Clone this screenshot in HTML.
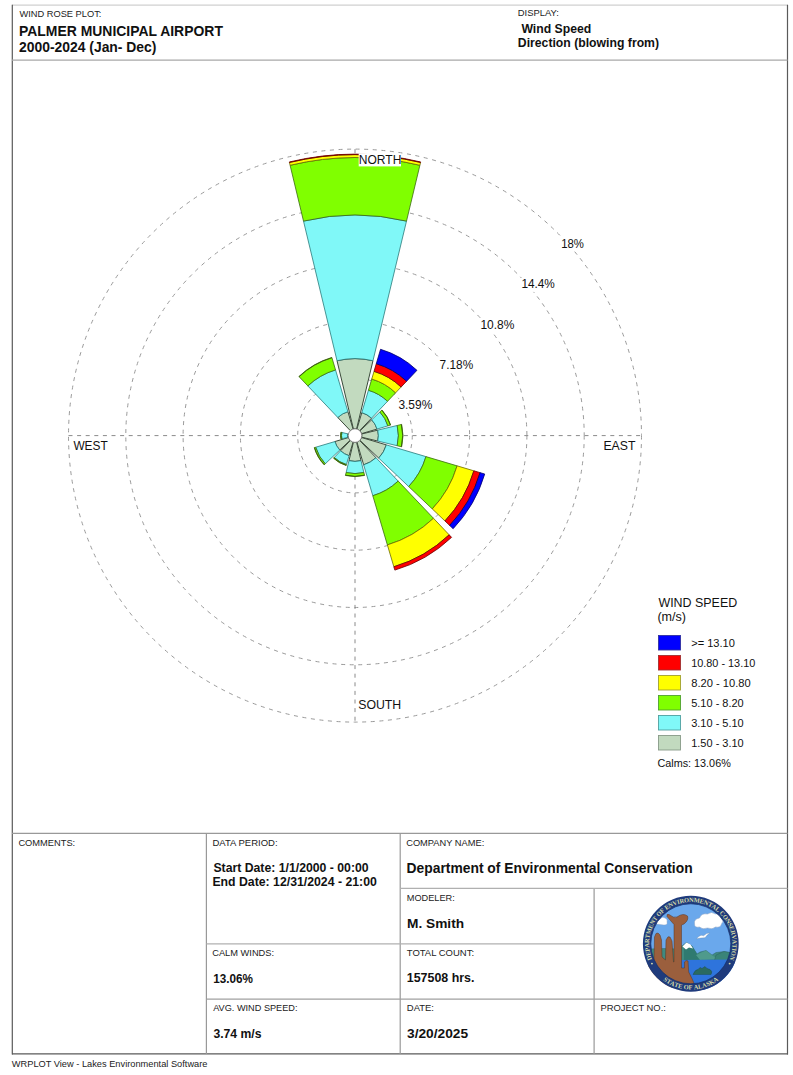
<!DOCTYPE html>
<html><head><meta charset="utf-8">
<style>
html,body{margin:0;padding:0;background:#fff;width:793px;height:1075px;overflow:hidden}
svg{position:absolute;left:0;top:0}
text{font-family:"Liberation Sans",sans-serif;fill:#111}
.lab{font-size:9px;fill:#333}
.big{font-size:12px;font-weight:bold}
.ax{font-size:11.6px;fill:#222}
</style></head><body>
<svg width="793" height="1075" viewBox="0 0 793 1075">

<g>
 <circle cx="690.8" cy="943.8" r="41.0" fill="#6aa8ec"/>
 <path d="M694.5,924 q-1,-5 5,-6 q2,-5 8,-4 q4,-3 8,0 q5,-1 6,4 q3,3 0,6 q-1,4 -6,3 q-3,3 -8,1 q-5,2 -8,-1 q-5,1 -5,-3z" fill="#fff" stroke="#8aa0c0" stroke-width="0.5"/>
 <path d="M656,924 q0,-4 4,-5 q2,-3 5,-1 q3,1 2,4 q1,3 -3,3 z" fill="#fff" stroke="#8aa0c0" stroke-width="0.4"/>
 <path d="M696.5,938.8 q4,-5 7,-3 q3,-3 6.5,-3 q-3,2 -5,5 q-4,0 -8.5,1z" fill="#fff" stroke="#6a8ab0" stroke-width="0.4"/>
 <path d="M648,949 L664,948.5 L678,949 L686.5,942.5 L692,946 L697,954 L700,952 L706,950.5 L712,955 L716,952.5 L724,951.5 L733,953 L733,966 L648,966z" fill="#3f8a80" stroke="#2a5a55" stroke-width="0.4"/>
 <path d="M686.5,942.5 L692,946 L697,954 L706,962 L684,962 L684,948z" fill="#2f7a70"/>
 <path d="M682.5,946.5 L686.5,942.5 L690.5,944.5 L693,948.5 L689,947.5 L686,949.5z" fill="#fff"/>
 <path d="M696,955 L706,950.5 L713,956 L718,959 L700,960z" fill="#4f9a8c"/>
 <path d="M714,962 L716,955 L724,951.5 L733,953 L733,963z" fill="#3a8478" stroke="#2a5a55" stroke-width="0.4"/>
 <path d="M680,960 L735,959.5 L735,990 L680,990z" fill="#2e74dc"/>
 <path d="M693,974.5 q2,-5 5,-5 l2,-2 l2,1 l3,-2 l2,2 l3,1 q3,2 1,5z" fill="#2a6a60" stroke="#1d4a44" stroke-width="0.4"/>
 <path d="M648,958 L654,960 L654.5,937 L656,933.5 L658,933 L660,935 L661.5,940 L662,957 L665.5,960 L666,940 L668,936.8 L670,937 L672,941 L673.5,962 L674,962 L674,924.5 Q670,920 667,916.5 Q666.5,913.5 669,914.5 Q674,918.5 677,917 Q683,912.5 687.5,916 Q689,920 684,924 L681.5,925 L681.5,968 L684.5,968 L684.5,962 Q686,959.5 688,961 L688.7,972 Q692,978 696,988 L648,988z" fill="#9b5f3d" stroke="#5a3520" stroke-width="0.5"/>
</g>
<path d="M626.8,943.8 a64,64 0 1 0 128,0 a64,64 0 1 0 -128,0 M642.9,943.8 a47.9,47.9 0 1 0 95.8,0 a47.9,47.9 0 1 0 -95.8,0z" fill="#fff" fill-rule="evenodd"/>
<path d="M642.9,943.8 a47.9,47.9 0 1 0 95.8,0 a47.9,47.9 0 1 0 -95.8,0 M650.8,943.8 a40.0,40.0 0 1 0 80.0,0 a40.0,40.0 0 1 0 -80.0,0z" fill="#1f3b7c" fill-rule="evenodd"/>
<circle cx="690.8" cy="943.8" r="40.0" fill="none" stroke="#16306a" stroke-width="0.7"/>
<text x="651.36" y="957.33" text-anchor="middle" transform="rotate(-108.93 651.36 957.33)" style="font-family:'Liberation Serif',serif;font-size:6.4px;font-weight:bold;fill:#d6dcaa">D</text>
<text x="650.18" y="953.23" text-anchor="middle" transform="rotate(-103.07 650.18 953.23)" style="font-family:'Liberation Serif',serif;font-size:6.4px;font-weight:bold;fill:#d6dcaa">E</text>
<text x="649.47" y="949.37" text-anchor="middle" transform="rotate(-97.67 649.47 949.37)" style="font-family:'Liberation Serif',serif;font-size:6.4px;font-weight:bold;fill:#d6dcaa">P</text>
<text x="649.13" y="945.29" text-anchor="middle" transform="rotate(-92.05 649.13 945.29)" style="font-family:'Liberation Serif',serif;font-size:6.4px;font-weight:bold;fill:#d6dcaa">A</text>
<text x="649.20" y="940.86" text-anchor="middle" transform="rotate(-85.95 649.20 940.86)" style="font-family:'Liberation Serif',serif;font-size:6.4px;font-weight:bold;fill:#d6dcaa">R</text>
<text x="649.72" y="936.62" text-anchor="middle" transform="rotate(-80.09 649.72 936.62)" style="font-family:'Liberation Serif',serif;font-size:6.4px;font-weight:bold;fill:#d6dcaa">T</text>
<text x="650.86" y="931.81" text-anchor="middle" transform="rotate(-73.29 650.86 931.81)" style="font-family:'Liberation Serif',serif;font-size:6.4px;font-weight:bold;fill:#d6dcaa">M</text>
<text x="652.56" y="927.17" text-anchor="middle" transform="rotate(-66.49 652.56 927.17)" style="font-family:'Liberation Serif',serif;font-size:6.4px;font-weight:bold;fill:#d6dcaa">E</text>
<text x="654.46" y="923.35" text-anchor="middle" transform="rotate(-60.63 654.46 923.35)" style="font-family:'Liberation Serif',serif;font-size:6.4px;font-weight:bold;fill:#d6dcaa">N</text>
<text x="656.74" y="919.74" text-anchor="middle" transform="rotate(-54.76 656.74 919.74)" style="font-family:'Liberation Serif',serif;font-size:6.4px;font-weight:bold;fill:#d6dcaa">T</text>
<text x="658.44" y="917.50" text-anchor="middle" transform="rotate(-50.89 658.44 917.50)" style="font-family:'Liberation Serif',serif;font-size:6.4px;font-weight:bold;fill:#d6dcaa"> </text>
<text x="660.52" y="915.12" text-anchor="middle" transform="rotate(-46.55 660.52 915.12)" style="font-family:'Liberation Serif',serif;font-size:6.4px;font-weight:bold;fill:#d6dcaa">O</text>
<text x="663.61" y="912.18" text-anchor="middle" transform="rotate(-40.69 663.61 912.18)" style="font-family:'Liberation Serif',serif;font-size:6.4px;font-weight:bold;fill:#d6dcaa">F</text>
<text x="665.67" y="910.52" text-anchor="middle" transform="rotate(-37.06 665.67 910.52)" style="font-family:'Liberation Serif',serif;font-size:6.4px;font-weight:bold;fill:#d6dcaa"> </text>
<text x="667.97" y="908.90" text-anchor="middle" transform="rotate(-33.19 667.97 908.90)" style="font-family:'Liberation Serif',serif;font-size:6.4px;font-weight:bold;fill:#d6dcaa">E</text>
<text x="671.66" y="906.75" text-anchor="middle" transform="rotate(-27.32 671.66 906.75)" style="font-family:'Liberation Serif',serif;font-size:6.4px;font-weight:bold;fill:#d6dcaa">N</text>
<text x="675.70" y="904.93" text-anchor="middle" transform="rotate(-21.23 675.70 904.93)" style="font-family:'Liberation Serif',serif;font-size:6.4px;font-weight:bold;fill:#d6dcaa">V</text>
<text x="678.93" y="903.82" text-anchor="middle" transform="rotate(-16.54 678.93 903.82)" style="font-family:'Liberation Serif',serif;font-size:6.4px;font-weight:bold;fill:#d6dcaa">I</text>
<text x="682.24" y="902.99" text-anchor="middle" transform="rotate(-11.85 682.24 902.99)" style="font-family:'Liberation Serif',serif;font-size:6.4px;font-weight:bold;fill:#d6dcaa">R</text>
<text x="686.79" y="902.29" text-anchor="middle" transform="rotate(-5.52 686.79 902.29)" style="font-family:'Liberation Serif',serif;font-size:6.4px;font-weight:bold;fill:#d6dcaa">O</text>
<text x="691.39" y="902.10" text-anchor="middle" transform="rotate(0.82 691.39 902.10)" style="font-family:'Liberation Serif',serif;font-size:6.4px;font-weight:bold;fill:#d6dcaa">N</text>
<text x="696.49" y="902.49" text-anchor="middle" transform="rotate(7.85 696.49 902.49)" style="font-family:'Liberation Serif',serif;font-size:6.4px;font-weight:bold;fill:#d6dcaa">M</text>
<text x="701.34" y="903.46" text-anchor="middle" transform="rotate(14.65 701.34 903.46)" style="font-family:'Liberation Serif',serif;font-size:6.4px;font-weight:bold;fill:#d6dcaa">E</text>
<text x="705.41" y="904.74" text-anchor="middle" transform="rotate(20.51 705.41 904.74)" style="font-family:'Liberation Serif',serif;font-size:6.4px;font-weight:bold;fill:#d6dcaa">N</text>
<text x="709.32" y="906.44" text-anchor="middle" transform="rotate(26.37 709.32 906.44)" style="font-family:'Liberation Serif',serif;font-size:6.4px;font-weight:bold;fill:#d6dcaa">T</text>
<text x="713.04" y="908.53" text-anchor="middle" transform="rotate(32.24 713.04 908.53)" style="font-family:'Liberation Serif',serif;font-size:6.4px;font-weight:bold;fill:#d6dcaa">A</text>
<text x="716.53" y="910.99" text-anchor="middle" transform="rotate(38.10 716.53 910.99)" style="font-family:'Liberation Serif',serif;font-size:6.4px;font-weight:bold;fill:#d6dcaa">L</text>
<text x="718.69" y="912.80" text-anchor="middle" transform="rotate(41.97 718.69 912.80)" style="font-family:'Liberation Serif',serif;font-size:6.4px;font-weight:bold;fill:#d6dcaa"> </text>
<text x="720.83" y="914.87" text-anchor="middle" transform="rotate(46.08 720.83 914.87)" style="font-family:'Liberation Serif',serif;font-size:6.4px;font-weight:bold;fill:#d6dcaa">C</text>
<text x="723.84" y="918.36" text-anchor="middle" transform="rotate(52.41 723.84 918.36)" style="font-family:'Liberation Serif',serif;font-size:6.4px;font-weight:bold;fill:#d6dcaa">O</text>
<text x="726.45" y="922.16" text-anchor="middle" transform="rotate(58.74 726.45 922.16)" style="font-family:'Liberation Serif',serif;font-size:6.4px;font-weight:bold;fill:#d6dcaa">N</text>
<text x="728.32" y="925.61" text-anchor="middle" transform="rotate(64.13 728.32 925.61)" style="font-family:'Liberation Serif',serif;font-size:6.4px;font-weight:bold;fill:#d6dcaa">S</text>
<text x="729.81" y="929.06" text-anchor="middle" transform="rotate(69.30 729.81 929.06)" style="font-family:'Liberation Serif',serif;font-size:6.4px;font-weight:bold;fill:#d6dcaa">E</text>
<text x="731.11" y="933.12" text-anchor="middle" transform="rotate(75.16 731.11 933.12)" style="font-family:'Liberation Serif',serif;font-size:6.4px;font-weight:bold;fill:#d6dcaa">R</text>
<text x="732.02" y="937.46" text-anchor="middle" transform="rotate(81.26 732.02 937.46)" style="font-family:'Liberation Serif',serif;font-size:6.4px;font-weight:bold;fill:#d6dcaa">V</text>
<text x="732.46" y="941.87" text-anchor="middle" transform="rotate(87.35 732.46 941.87)" style="font-family:'Liberation Serif',serif;font-size:6.4px;font-weight:bold;fill:#d6dcaa">A</text>
<text x="732.43" y="946.14" text-anchor="middle" transform="rotate(93.22 732.43 946.14)" style="font-family:'Liberation Serif',serif;font-size:6.4px;font-weight:bold;fill:#d6dcaa">T</text>
<text x="732.13" y="949.37" text-anchor="middle" transform="rotate(97.67 732.13 949.37)" style="font-family:'Liberation Serif',serif;font-size:6.4px;font-weight:bold;fill:#d6dcaa">I</text>
<text x="731.50" y="952.90" text-anchor="middle" transform="rotate(102.60 731.50 952.90)" style="font-family:'Liberation Serif',serif;font-size:6.4px;font-weight:bold;fill:#d6dcaa">O</text>
<text x="730.24" y="957.33" text-anchor="middle" transform="rotate(108.93 730.24 957.33)" style="font-family:'Liberation Serif',serif;font-size:6.4px;font-weight:bold;fill:#d6dcaa">N</text><text x="664.44" y="981.25" text-anchor="middle" transform="rotate(35.15 664.44 981.25)" style="font-family:'Liberation Serif',serif;font-size:6.4px;font-weight:bold;fill:#d6dcaa">S</text>
<text x="667.73" y="983.36" text-anchor="middle" transform="rotate(30.25 667.73 983.36)" style="font-family:'Liberation Serif',serif;font-size:6.4px;font-weight:bold;fill:#d6dcaa">T</text>
<text x="671.67" y="985.41" text-anchor="middle" transform="rotate(24.69 671.67 985.41)" style="font-family:'Liberation Serif',serif;font-size:6.4px;font-weight:bold;fill:#d6dcaa">A</text>
<text x="675.79" y="987.07" text-anchor="middle" transform="rotate(19.13 675.79 987.07)" style="font-family:'Liberation Serif',serif;font-size:6.4px;font-weight:bold;fill:#d6dcaa">T</text>
<text x="679.89" y="988.28" text-anchor="middle" transform="rotate(13.79 679.89 988.28)" style="font-family:'Liberation Serif',serif;font-size:6.4px;font-weight:bold;fill:#d6dcaa">E</text>
<text x="682.76" y="988.89" text-anchor="middle" transform="rotate(10.12 682.76 988.89)" style="font-family:'Liberation Serif',serif;font-size:6.4px;font-weight:bold;fill:#d6dcaa"> </text>
<text x="686.01" y="989.35" text-anchor="middle" transform="rotate(6.00 686.01 989.35)" style="font-family:'Liberation Serif',serif;font-size:6.4px;font-weight:bold;fill:#d6dcaa">O</text>
<text x="690.45" y="989.60" text-anchor="middle" transform="rotate(0.44 690.45 989.60)" style="font-family:'Liberation Serif',serif;font-size:6.4px;font-weight:bold;fill:#d6dcaa">F</text>
<text x="693.20" y="989.54" text-anchor="middle" transform="rotate(-3.00 693.20 989.54)" style="font-family:'Liberation Serif',serif;font-size:6.4px;font-weight:bold;fill:#d6dcaa"> </text>
<text x="696.30" y="989.27" text-anchor="middle" transform="rotate(-6.90 696.30 989.27)" style="font-family:'Liberation Serif',serif;font-size:6.4px;font-weight:bold;fill:#d6dcaa">A</text>
<text x="700.68" y="988.52" text-anchor="middle" transform="rotate(-12.46 700.68 988.52)" style="font-family:'Liberation Serif',serif;font-size:6.4px;font-weight:bold;fill:#d6dcaa">L</text>
<text x="704.97" y="987.35" text-anchor="middle" transform="rotate(-18.02 704.97 987.35)" style="font-family:'Liberation Serif',serif;font-size:6.4px;font-weight:bold;fill:#d6dcaa">A</text>
<text x="708.80" y="985.92" text-anchor="middle" transform="rotate(-23.14 708.80 985.92)" style="font-family:'Liberation Serif',serif;font-size:6.4px;font-weight:bold;fill:#d6dcaa">S</text>
<text x="712.64" y="984.06" text-anchor="middle" transform="rotate(-28.48 712.64 984.06)" style="font-family:'Liberation Serif',serif;font-size:6.4px;font-weight:bold;fill:#d6dcaa">K</text>
<text x="716.73" y="981.55" text-anchor="middle" transform="rotate(-34.48 716.73 981.55)" style="font-family:'Liberation Serif',serif;font-size:6.4px;font-weight:bold;fill:#d6dcaa">A</text>
<circle cx="651.95" cy="963.59" r="0.95" fill="#d6dcaa"/>
<circle cx="729.65" cy="963.59" r="0.95" fill="#d6dcaa"/>

<!-- frame -->
<line x1="12" y1="5.2" x2="787.5" y2="5.2" stroke="#d0d0d0" stroke-width="1.2"/>
<line x1="12.3" y1="4.8" x2="12.3" y2="1054.4" stroke="#5a5a5a" stroke-width="1.2"/>
<line x1="787.5" y1="4.8" x2="787.5" y2="1054.4" stroke="#5a5a5a" stroke-width="1.2"/>
<line x1="12" y1="1053.9" x2="788" y2="1053.9" stroke="#5a5a5a" stroke-width="1.2"/>
<line x1="12" y1="60.2" x2="787.5" y2="60.2" stroke="#a8a8a8" stroke-width="1.2"/>
<!-- table -->
<line x1="12" y1="833.3" x2="787.5" y2="833.3" stroke="#999" stroke-width="1.2"/>
<line x1="206.4" y1="833" x2="206.4" y2="1054" stroke="#999" stroke-width="1.2"/>
<line x1="400.2" y1="833" x2="400.2" y2="1054" stroke="#999" stroke-width="1.2"/>
<line x1="594.1" y1="888" x2="594.1" y2="1054" stroke="#999" stroke-width="1.2"/>
<line x1="400" y1="888.3" x2="787.5" y2="888.3" stroke="#b0b0b0" stroke-width="1.2"/>
<line x1="206.4" y1="943.9" x2="594" y2="943.9" stroke="#b0b0b0" stroke-width="1.2"/>
<line x1="206.4" y1="999.1" x2="787.5" y2="999.1" stroke="#a0a0a0" stroke-width="1.2"/>

<circle cx="355.0" cy="435.6" r="57.30" fill="none" stroke="#9a9a9a" stroke-width="1" stroke-dasharray="4 4.6"/>
<circle cx="355.0" cy="435.6" r="114.60" fill="none" stroke="#9a9a9a" stroke-width="1" stroke-dasharray="4 4.6"/>
<circle cx="355.0" cy="435.6" r="171.90" fill="none" stroke="#9a9a9a" stroke-width="1" stroke-dasharray="4 4.6"/>
<circle cx="355.0" cy="435.6" r="229.20" fill="none" stroke="#9a9a9a" stroke-width="1" stroke-dasharray="4 4.6"/>
<circle cx="355.0" cy="435.6" r="286.50" fill="none" stroke="#9a9a9a" stroke-width="1" stroke-dasharray="4 4.6"/>
<line x1="68.50" y1="435.6" x2="641.50" y2="435.6" stroke="#8a8a8a" stroke-width="1" stroke-dasharray="4 4.6"/>
<line x1="355.0" y1="149.10" x2="355.0" y2="722.10" stroke="#8a8a8a" stroke-width="1" stroke-dasharray="4 4.6"/>
<path d="M353.41,428.99L337.02,360.73A77.00,77.00 0 0 1 372.98,360.73L356.59,428.99A6.80,6.80 0 0 0 353.41,428.99Z" fill="#c2dabf" stroke="#3a4a3a" stroke-width="1.0"/>
<path d="M337.02,360.73L303.50,221.10A220.60,220.60 0 0 1 406.50,221.10L372.98,360.73A77.00,77.00 0 0 0 337.02,360.73Z" fill="#80f8f8" stroke="#2a7a7a" stroke-width="0.8"/>
<path d="M303.50,221.10L290.10,165.28A278.00,278.00 0 0 1 419.90,165.28L406.50,221.10A220.60,220.60 0 0 0 303.50,221.10Z" fill="#80ff00" stroke="#3a6a10" stroke-width="0.8"/>
<path d="M290.10,165.28L289.43,162.46A280.90,280.90 0 0 1 420.57,162.46L419.90,165.28A278.00,278.00 0 0 0 290.10,165.28Z" fill="#ffff00" stroke="#6a6a00" stroke-width="0.8"/>
<path d="M289.43,162.46L289.31,161.98A281.40,281.40 0 0 1 420.69,161.98L420.57,162.46A280.90,280.90 0 0 0 289.43,162.46Z" fill="#ff0000" stroke="#6a0000" stroke-width="0.8"/>
<path d="M356.93,429.08L361.82,412.59A24.00,24.00 0 0 1 371.52,418.19L359.68,430.67A6.80,6.80 0 0 0 356.93,429.08Z" fill="#c2dabf" stroke="#3a4a3a" stroke-width="1.0"/>
<path d="M361.82,412.59L368.43,390.25A47.30,47.30 0 0 1 387.56,401.29L371.52,418.19A24.00,24.00 0 0 0 361.82,412.59Z" fill="#80f8f8" stroke="#2a7a7a" stroke-width="0.8"/>
<path d="M368.43,390.25L371.76,379.03A59.00,59.00 0 0 1 395.61,392.80L387.56,401.29A47.30,47.30 0 0 0 368.43,390.25Z" fill="#80ff00" stroke="#3a6a10" stroke-width="0.8"/>
<path d="M371.76,379.03L374.03,371.36A67.00,67.00 0 0 1 401.12,387.00L395.61,392.80A59.00,59.00 0 0 0 371.76,379.03Z" fill="#ffff00" stroke="#6a6a00" stroke-width="0.8"/>
<path d="M374.03,371.36L376.30,363.69A75.00,75.00 0 0 1 406.63,381.20L401.12,387.00A67.00,67.00 0 0 0 374.03,371.36Z" fill="#ff0000" stroke="#6a0000" stroke-width="0.8"/>
<path d="M376.30,363.69L380.56,349.31A90.00,90.00 0 0 1 416.95,370.32L406.63,381.20A75.00,75.00 0 0 0 376.30,363.69Z" fill="#0000ff" stroke="#00006a" stroke-width="0.8"/>
<path d="M359.93,430.92L371.68,419.77A23.00,23.00 0 0 1 377.05,429.07L361.52,433.67A6.80,6.80 0 0 0 359.93,430.92Z" fill="#c2dabf" stroke="#3a4a3a" stroke-width="1.0"/>
<path d="M371.68,419.77L379.88,411.99A34.30,34.30 0 0 1 387.89,425.86L377.05,429.07A23.00,23.00 0 0 0 371.68,419.77Z" fill="#80f8f8" stroke="#2a7a7a" stroke-width="0.8"/>
<path d="M379.88,411.99L381.98,409.99A37.20,37.20 0 0 1 390.67,425.03L387.89,425.86A34.30,34.30 0 0 0 379.88,411.99Z" fill="#80ff00" stroke="#3a6a10" stroke-width="0.8"/>
<path d="M381.77,410.20A36.90,36.90 0 0 1 390.38,425.12" fill="none" stroke="#3a5210" stroke-width="0.9"/>
<path d="M361.61,434.01L377.75,430.14A23.40,23.40 0 0 1 377.75,441.06L361.61,437.19A6.80,6.80 0 0 0 361.61,434.01Z" fill="#c2dabf" stroke="#3a4a3a" stroke-width="1.0"/>
<path d="M377.75,430.14L397.20,425.47A43.40,43.40 0 0 1 397.20,445.73L377.75,441.06A23.40,23.40 0 0 0 377.75,430.14Z" fill="#80f8f8" stroke="#2a7a7a" stroke-width="0.8"/>
<path d="M397.20,425.47L401.67,424.39A48.00,48.00 0 0 1 401.67,446.81L397.20,445.73A43.40,43.40 0 0 0 397.20,425.47Z" fill="#80ff00" stroke="#3a6a10" stroke-width="0.8"/>
<path d="M401.38,424.46A47.70,47.70 0 0 1 401.38,446.74" fill="none" stroke="#3a5210" stroke-width="0.9"/>
<path d="M361.52,437.53L386.35,444.89A32.70,32.70 0 0 1 378.72,458.11L359.93,440.28A6.80,6.80 0 0 0 361.52,437.53Z" fill="#c2dabf" stroke="#3a4a3a" stroke-width="1.0"/>
<path d="M386.35,444.89L425.95,456.62A74.00,74.00 0 0 1 408.68,486.54L378.72,458.11A32.70,32.70 0 0 0 386.35,444.89Z" fill="#80f8f8" stroke="#2a7a7a" stroke-width="0.8"/>
<path d="M425.95,456.62L457.11,465.85A106.50,106.50 0 0 1 432.25,508.91L408.68,486.54A74.00,74.00 0 0 0 425.95,456.62Z" fill="#80ff00" stroke="#3a6a10" stroke-width="0.8"/>
<path d="M457.11,465.85L473.89,470.82A124.00,124.00 0 0 1 444.95,520.96L432.25,508.91A106.50,106.50 0 0 0 457.11,465.85Z" fill="#ffff00" stroke="#6a6a00" stroke-width="0.8"/>
<path d="M473.89,470.82L480.13,472.66A130.50,130.50 0 0 1 449.66,525.43L444.95,520.96A124.00,124.00 0 0 0 473.89,470.82Z" fill="#ff0000" stroke="#6a0000" stroke-width="0.8"/>
<path d="M480.13,472.66L484.73,474.03A135.30,135.30 0 0 1 453.14,528.73L449.66,525.43A130.50,130.50 0 0 0 480.13,472.66Z" fill="#0000ff" stroke="#00006a" stroke-width="0.8"/>
<path d="M359.68,440.53L375.99,457.72A30.50,30.50 0 0 1 363.66,464.84L356.93,442.12A6.80,6.80 0 0 0 359.68,440.53Z" fill="#c2dabf" stroke="#3a4a3a" stroke-width="1.0"/>
<path d="M375.99,457.72L398.16,481.08A62.70,62.70 0 0 1 372.81,495.72L363.66,464.84A30.50,30.50 0 0 0 375.99,457.72Z" fill="#80f8f8" stroke="#2a7a7a" stroke-width="0.8"/>
<path d="M398.16,481.08L433.47,518.29A114.00,114.00 0 0 1 387.38,544.91L372.81,495.72A62.70,62.70 0 0 0 398.16,481.08Z" fill="#80ff00" stroke="#3a6a10" stroke-width="0.8"/>
<path d="M433.47,518.29L449.17,534.83A136.80,136.80 0 0 1 393.85,566.77L387.38,544.91A114.00,114.00 0 0 0 433.47,518.29Z" fill="#ffff00" stroke="#6a6a00" stroke-width="0.8"/>
<path d="M449.17,534.83L451.58,537.37A140.30,140.30 0 0 1 394.85,570.12L393.85,566.77A136.80,136.80 0 0 0 449.17,534.83Z" fill="#ff0000" stroke="#6a0000" stroke-width="0.8"/>
<path d="M356.59,442.21L361.02,460.69A25.80,25.80 0 0 1 348.98,460.69L353.41,442.21A6.80,6.80 0 0 0 356.59,442.21Z" fill="#c2dabf" stroke="#3a4a3a" stroke-width="1.0"/>
<path d="M361.02,460.69L363.87,472.55A38.00,38.00 0 0 1 346.13,472.55L348.98,460.69A25.80,25.80 0 0 0 361.02,460.69Z" fill="#80f8f8" stroke="#2a7a7a" stroke-width="0.8"/>
<path d="M363.87,472.55L364.57,475.47A41.00,41.00 0 0 1 345.43,475.47L346.13,472.55A38.00,38.00 0 0 0 363.87,472.55Z" fill="#80ff00" stroke="#3a6a10" stroke-width="0.8"/>
<path d="M364.50,475.18A40.70,40.70 0 0 1 345.50,475.18" fill="none" stroke="#3a5210" stroke-width="0.9"/>
<path d="M353.07,442.12L349.04,455.74A21.00,21.00 0 0 1 340.54,450.83L350.32,440.53A6.80,6.80 0 0 0 353.07,442.12Z" fill="#c2dabf" stroke="#3a4a3a" stroke-width="1.0"/>
<path d="M349.04,455.74L346.42,464.56A30.20,30.20 0 0 1 334.21,457.51L340.54,450.83A21.00,21.00 0 0 0 349.04,455.74Z" fill="#80f8f8" stroke="#2a7a7a" stroke-width="0.8"/>
<path d="M346.42,464.56L346.14,465.52A31.20,31.20 0 0 1 333.52,458.23L334.21,457.51A30.20,30.20 0 0 0 346.42,464.56Z" fill="#80ff00" stroke="#3a6a10" stroke-width="0.8"/>
<path d="M346.22,465.23A30.90,30.90 0 0 1 333.73,458.01" fill="none" stroke="#3a5210" stroke-width="0.9"/>
<path d="M350.07,440.28L339.77,450.06A21.00,21.00 0 0 1 334.86,441.56L348.48,437.53A6.80,6.80 0 0 0 350.07,440.28Z" fill="#c2dabf" stroke="#3a4a3a" stroke-width="1.0"/>
<path d="M339.77,450.06L325.26,463.82A41.00,41.00 0 0 1 315.69,447.24L334.86,441.56A21.00,21.00 0 0 0 339.77,450.06Z" fill="#80f8f8" stroke="#2a7a7a" stroke-width="0.8"/>
<path d="M325.26,463.82L324.17,464.86A42.50,42.50 0 0 1 314.25,447.67L315.69,447.24A41.00,41.00 0 0 0 325.26,463.82Z" fill="#80ff00" stroke="#3a6a10" stroke-width="0.8"/>
<path d="M324.39,464.65A42.20,42.20 0 0 1 314.54,447.59" fill="none" stroke="#3a5210" stroke-width="0.9"/>
<path d="M348.39,437.19L347.61,437.37A7.60,7.60 0 0 1 347.61,433.83L348.39,434.01A6.80,6.80 0 0 0 348.39,437.19Z" fill="#c2dabf" stroke="#3a4a3a" stroke-width="1.0"/>
<path d="M347.61,437.37L341.87,438.75A13.50,13.50 0 0 1 341.87,432.45L347.61,433.83A7.60,7.60 0 0 0 347.61,437.37Z" fill="#80f8f8" stroke="#2a7a7a" stroke-width="0.8"/>
<path d="M341.87,438.75L340.90,438.98A14.50,14.50 0 0 1 340.90,432.22L341.87,432.45A13.50,13.50 0 0 0 341.87,438.75Z" fill="#80ff00" stroke="#3a6a10" stroke-width="0.8"/>
<path d="M341.19,438.91A14.20,14.20 0 0 1 341.19,432.29" fill="none" stroke="#3a5210" stroke-width="0.9"/>
<path d="M350.32,430.67L337.79,417.47A25.00,25.00 0 0 1 347.90,411.63L353.07,429.08A6.80,6.80 0 0 0 350.32,430.67Z" fill="#c2dabf" stroke="#3a4a3a" stroke-width="1.0"/>
<path d="M337.79,417.47L307.85,385.91A68.50,68.50 0 0 1 335.54,369.92L347.90,411.63A25.00,25.00 0 0 0 337.79,417.47Z" fill="#80f8f8" stroke="#2a7a7a" stroke-width="0.8"/>
<path d="M307.85,385.91L298.90,376.48A81.50,81.50 0 0 1 331.85,357.46L335.54,369.92A68.50,68.50 0 0 0 307.85,385.91Z" fill="#80ff00" stroke="#3a6a10" stroke-width="0.8"/>
<path d="M299.11,376.70A81.20,81.20 0 0 1 331.94,357.74" fill="none" stroke="#3a5210" stroke-width="0.9"/>
<circle cx="355.0" cy="435.6" r="6.8" fill="#fff" stroke="#777" stroke-width="0.8"/>


<!-- legend -->
<rect x="658.5" y="635.5" width="22" height="14.5" fill="#0000ff" stroke="#3030a0" stroke-width="0.9"/>
<rect x="658.5" y="655.5" width="22" height="14.5" fill="#ff0000" stroke="#a03030" stroke-width="0.9"/>
<rect x="658.5" y="675.5" width="22" height="14.5" fill="#ffff00" stroke="#a0a030" stroke-width="0.9"/>
<rect x="658.5" y="695.5" width="22" height="14.5" fill="#80ff00" stroke="#50a030" stroke-width="0.9"/>
<rect x="658.5" y="715.5" width="22" height="14.5" fill="#80f8f8" stroke="#50a0a0" stroke-width="0.9"/>
<rect x="658.5" y="735.5" width="22" height="14.5" fill="#c2dabf" stroke="#889a88" stroke-width="0.9"/>

<rect x="358.7" y="153.4" width="42.3" height="13" fill="#fff"/>
<rect x="397.9" y="398.8" width="35.5" height="14.2" fill="#fff"/>
<rect x="438.7" y="358.0" width="35.4" height="14.1" fill="#fff"/>
<rect x="479.9" y="318.0" width="35.2" height="14.4" fill="#fff"/>
<rect x="520.9" y="277.9" width="34.7" height="14.0" fill="#fff"/>
<rect x="560.6" y="236.9" width="24.5" height="14.4" fill="#fff"/>
<text x="19.40" y="17.00" textLength="82.03" lengthAdjust="spacingAndGlyphs" xml:space="preserve" style="font-size:9.4px;font-weight:normal;fill:#222">WIND ROSE PLOT:</text>
<text x="19.00" y="36.40" textLength="203.91" lengthAdjust="spacingAndGlyphs" xml:space="preserve" style="font-size:14.0px;font-weight:bold;fill:#111">PALMER MUNICIPAL AIRPORT</text>
<text x="19.00" y="51.80" textLength="137.43" lengthAdjust="spacingAndGlyphs" xml:space="preserve" style="font-size:14.0px;font-weight:bold;fill:#111">2000-2024 (Jan- Dec)</text>
<text x="517.80" y="16.40" textLength="41.20" lengthAdjust="spacingAndGlyphs" xml:space="preserve" style="font-size:9.4px;font-weight:normal;fill:#222">DISPLAY:</text>
<text x="521.40" y="33.20" textLength="69.90" lengthAdjust="spacingAndGlyphs" xml:space="preserve" style="font-size:12.4px;font-weight:bold;fill:#111">Wind Speed</text>
<text x="517.80" y="47.00" textLength="141.27" lengthAdjust="spacingAndGlyphs" xml:space="preserve" style="font-size:12.4px;font-weight:bold;fill:#111">Direction (blowing from)</text>
<text x="358.80" y="164.00" textLength="42.51" lengthAdjust="spacingAndGlyphs" xml:space="preserve" style="font-size:12.2px;font-weight:normal;fill:#111">NORTH</text>
<text x="358.20" y="708.80" textLength="43.06" lengthAdjust="spacingAndGlyphs" xml:space="preserve" style="font-size:12.2px;font-weight:normal;fill:#111">SOUTH</text>
<text x="73.40" y="449.80" textLength="34.32" lengthAdjust="spacingAndGlyphs" xml:space="preserve" style="font-size:12.2px;font-weight:normal;fill:#111">WEST</text>
<text x="603.40" y="449.60" textLength="32.04" lengthAdjust="spacingAndGlyphs" xml:space="preserve" style="font-size:12.2px;font-weight:normal;fill:#111">EAST</text>
<text x="398.40" y="409.40" textLength="33.86" lengthAdjust="spacingAndGlyphs" xml:space="preserve" style="font-size:12.2px;font-weight:normal;fill:#111">3.59%</text>
<text x="439.60" y="368.80" textLength="33.56" lengthAdjust="spacingAndGlyphs" xml:space="preserve" style="font-size:12.2px;font-weight:normal;fill:#111">7.18%</text>
<text x="480.40" y="329.00" textLength="33.96" lengthAdjust="spacingAndGlyphs" xml:space="preserve" style="font-size:12.2px;font-weight:normal;fill:#111">10.8%</text>
<text x="521.40" y="288.00" textLength="33.46" lengthAdjust="spacingAndGlyphs" xml:space="preserve" style="font-size:12.2px;font-weight:normal;fill:#111">14.4%</text>
<text x="561.20" y="247.60" textLength="22.71" lengthAdjust="spacingAndGlyphs" xml:space="preserve" style="font-size:12.2px;font-weight:normal;fill:#111">18%</text>
<text x="658.40" y="606.60" textLength="78.78" lengthAdjust="spacingAndGlyphs" xml:space="preserve" style="font-size:12.4px;font-weight:normal;fill:#111">WIND SPEED</text>
<text x="657.40" y="620.80" textLength="28.62" lengthAdjust="spacingAndGlyphs" xml:space="preserve" style="font-size:12.4px;font-weight:normal;fill:#111">(m/s)</text>
<text x="691.20" y="646.60" textLength="43.71" lengthAdjust="spacingAndGlyphs" xml:space="preserve" style="font-size:11.1px;font-weight:normal;fill:#111">&gt;= 13.10</text>
<text x="691.20" y="666.60" textLength="64.09" lengthAdjust="spacingAndGlyphs" xml:space="preserve" style="font-size:11.1px;font-weight:normal;fill:#111">10.80 - 13.10</text>
<text x="691.20" y="686.60" textLength="59.42" lengthAdjust="spacingAndGlyphs" xml:space="preserve" style="font-size:11.1px;font-weight:normal;fill:#111">8.20 - 10.80</text>
<text x="691.20" y="706.60" textLength="52.55" lengthAdjust="spacingAndGlyphs" xml:space="preserve" style="font-size:11.1px;font-weight:normal;fill:#111">5.10 - 8.20</text>
<text x="691.20" y="726.60" textLength="52.55" lengthAdjust="spacingAndGlyphs" xml:space="preserve" style="font-size:11.1px;font-weight:normal;fill:#111">3.10 - 5.10</text>
<text x="691.20" y="746.60" textLength="52.55" lengthAdjust="spacingAndGlyphs" xml:space="preserve" style="font-size:11.1px;font-weight:normal;fill:#111">1.50 - 3.10</text>
<text x="657.40" y="766.60" textLength="73.39" lengthAdjust="spacingAndGlyphs" xml:space="preserve" style="font-size:11.0px;font-weight:normal;fill:#111">Calms: 13.06%</text>
<text x="18.40" y="845.60" textLength="56.80" lengthAdjust="spacingAndGlyphs" xml:space="preserve" style="font-size:9.7px;font-weight:normal;fill:#222">COMMENTS:</text>
<text x="212.40" y="845.80" textLength="65.19" lengthAdjust="spacingAndGlyphs" xml:space="preserve" style="font-size:9.7px;font-weight:normal;fill:#222">DATA PERIOD:</text>
<text x="213.40" y="872.20" textLength="155.23" lengthAdjust="spacingAndGlyphs" xml:space="preserve" style="font-size:12.4px;font-weight:bold;fill:#111">Start Date: 1/1/2000 - 00:00</text>
<text x="212.40" y="886.20" textLength="164.40" lengthAdjust="spacingAndGlyphs" xml:space="preserve" style="font-size:12.4px;font-weight:bold;fill:#111">End Date: 12/31/2024 - 21:00</text>
<text x="212.20" y="955.60" textLength="61.89" lengthAdjust="spacingAndGlyphs" xml:space="preserve" style="font-size:9.7px;font-weight:normal;fill:#222">CALM WINDS:</text>
<text x="213.20" y="983.40" textLength="39.73" lengthAdjust="spacingAndGlyphs" xml:space="preserve" style="font-size:12.4px;font-weight:bold;fill:#111">13.06%</text>
<text x="213.20" y="1011.40" textLength="84.29" lengthAdjust="spacingAndGlyphs" xml:space="preserve" style="font-size:9.7px;font-weight:normal;fill:#222">AVG. WIND SPEED:</text>
<text x="213.40" y="1038.40" textLength="48.12" lengthAdjust="spacingAndGlyphs" xml:space="preserve" style="font-size:12.4px;font-weight:bold;fill:#111">3.74 m/s</text>
<text x="406.20" y="845.80" textLength="78.07" lengthAdjust="spacingAndGlyphs" xml:space="preserve" style="font-size:9.7px;font-weight:normal;fill:#222">COMPANY NAME:</text>
<text x="406.60" y="873.00" textLength="286.03" lengthAdjust="spacingAndGlyphs" xml:space="preserve" style="font-size:13.9px;font-weight:bold;fill:#111">Department of Environmental Conservation</text>
<text x="406.80" y="900.80" textLength="48.01" lengthAdjust="spacingAndGlyphs" xml:space="preserve" style="font-size:9.7px;font-weight:normal;fill:#222">MODELER:</text>
<text x="407.00" y="928.00" textLength="57.08" lengthAdjust="spacingAndGlyphs" xml:space="preserve" style="font-size:12.6px;font-weight:bold;fill:#111">M. Smith</text>
<text x="406.80" y="955.60" textLength="67.22" lengthAdjust="spacingAndGlyphs" xml:space="preserve" style="font-size:9.7px;font-weight:normal;fill:#222">TOTAL COUNT:</text>
<text x="406.80" y="982.40" textLength="67.62" lengthAdjust="spacingAndGlyphs" xml:space="preserve" style="font-size:12.4px;font-weight:bold;fill:#111">157508 hrs.</text>
<text x="406.80" y="1011.40" textLength="27.21" lengthAdjust="spacingAndGlyphs" xml:space="preserve" style="font-size:9.7px;font-weight:normal;fill:#222">DATE:</text>
<text x="407.00" y="1038.00" textLength="61.12" lengthAdjust="spacingAndGlyphs" xml:space="preserve" style="font-size:12.4px;font-weight:bold;fill:#111">3/20/2025</text>
<text x="600.40" y="1011.40" textLength="65.46" lengthAdjust="spacingAndGlyphs" xml:space="preserve" style="font-size:9.7px;font-weight:normal;fill:#222">PROJECT NO.:</text>
<text x="11.80" y="1066.60" textLength="195.67" lengthAdjust="spacingAndGlyphs" xml:space="preserve" style="font-size:9.4px;font-weight:normal;fill:#222">WRPLOT View - Lakes Environmental Software</text>
</svg>
</body></html>
